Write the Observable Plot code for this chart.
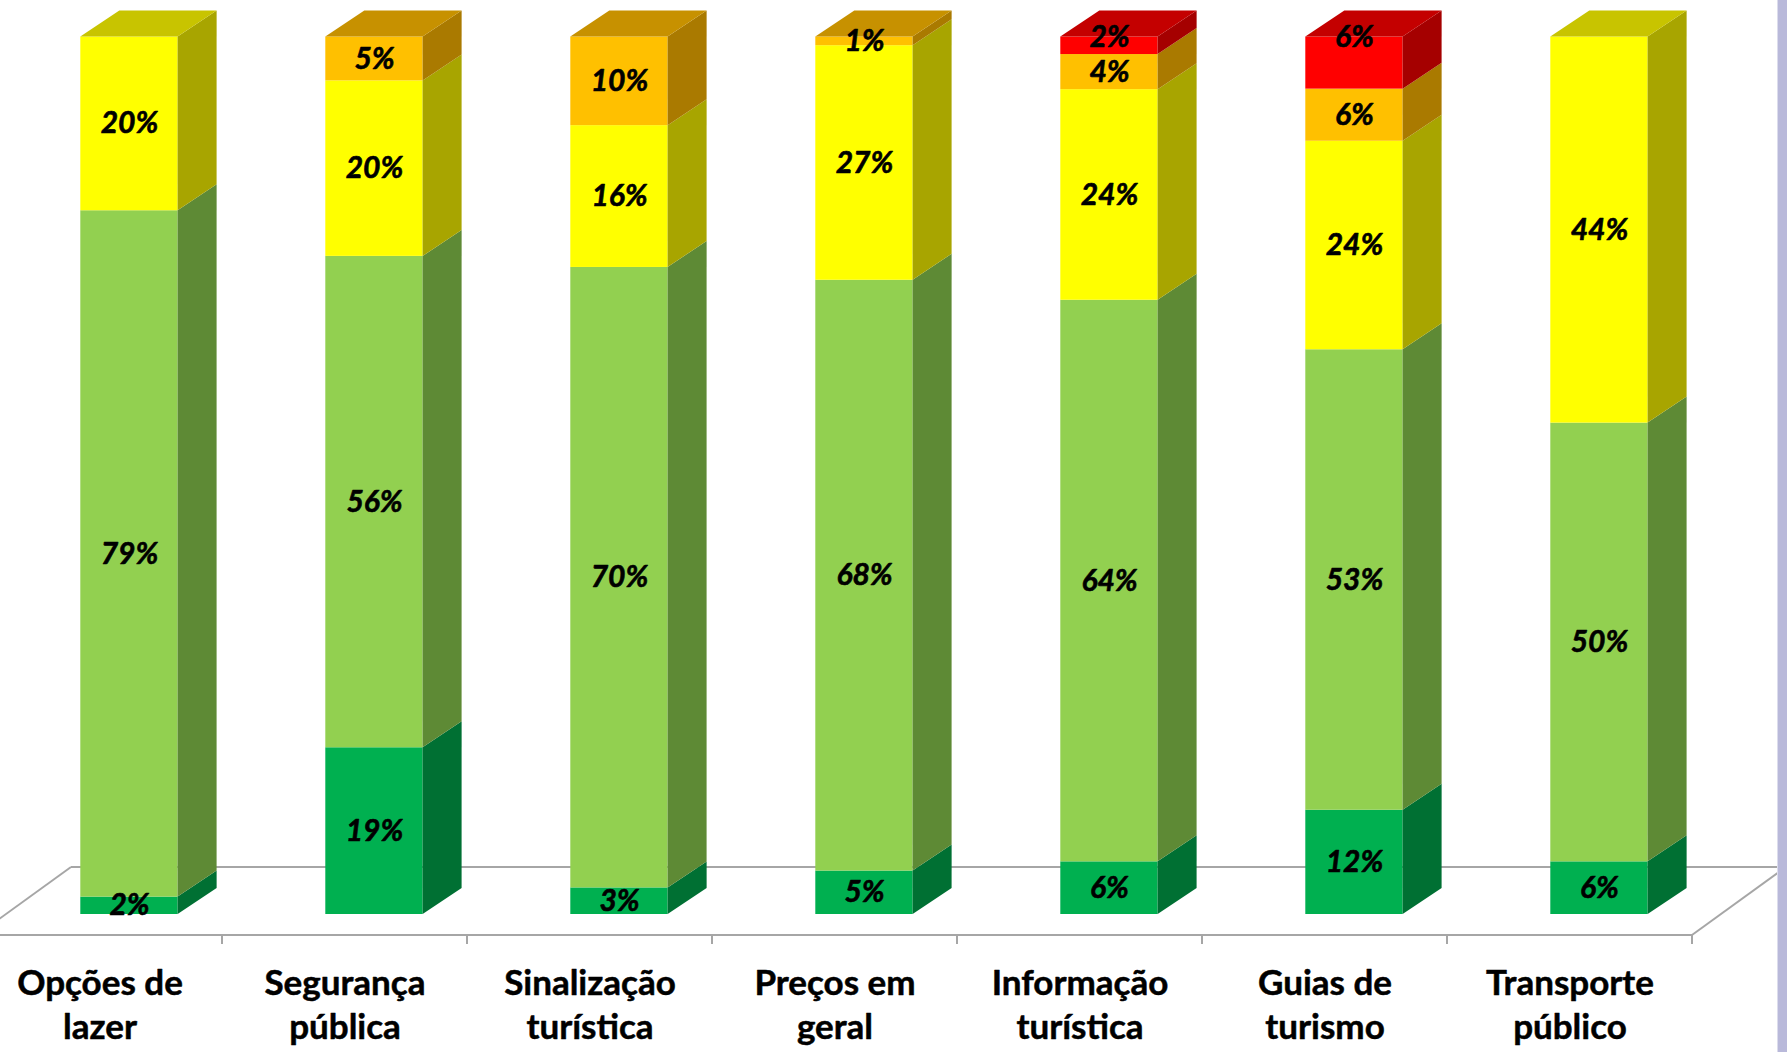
<!DOCTYPE html>
<html><head><meta charset="utf-8">
<script src="https://cdn.jsdelivr.net/npm/d3@7"></script>
<script src="https://cdn.jsdelivr.net/npm/@observablehq/plot@0.6"></script>
<style>
body{margin:0;background:#fff;overflow:hidden}
#chart{position:relative;width:1787px;height:1052px;overflow:hidden}
#edge{position:absolute;left:1777px;top:0;width:10px;height:1052px;background:#b9b9da;border-left:1px solid #dcdcec}
</style></head><body>
<div id="chart"><div id="edge"></div></div>
<script>
const categories = ["Opções de lazer","Segurança pública","Sinalização turística","Preços em geral","Informação turística","Guias de turismo","Transporte público"];
const categoryLabels = ["Opções de\nlazer","Segurança\npública","Sinalização\nturística","Preços em\ngeral","Informação\nturística","Guias de\nturismo","Transporte\npúblico"];
const series = ["Ótimo","Bom","Regular","Ruim","Péssimo"];
const otimo   = [2, 19, 3, 5, 6, 12, 6];
const bom     = [79, 56, 70, 68, 64, 53, 50];
const regular = [20, 20, 16, 27, 24, 24, 44];
const ruim    = [0, 5, 10, 1, 4, 6, 0];
const pessimo = [0, 0, 0, 0, 2, 6, 0];
const frontColors = ["#00B050","#92D050","#FFFF00","#FFC000","#FF0000"];
const sideColors  = ["#007033","#5E8A35","#A8A500","#AA7A00","#A50000"];
const topColors   = ["#00903F","#78AC42","#C8C400","#C79100","#C40000"];

const seriesValues = [otimo, bom, regular, ruim, pessimo];
const rows = [];
categories.forEach((cat, i) => {
  const total = d3.sum(seriesValues, s => s[i]);
  let acc = 0;
  const catRows = [];
  seriesValues.forEach((s, k) => {
    const v = s[i];
    if (v > 0) {
      catRows.push({cat, series: series[k], k, value: v, y1: acc / total, y2: (acc + v) / total, top: false});
    }
    acc += v;
  });
  catRows[catRows.length - 1].top = true;
  rows.push(...catRows);
});

const DX = 39, DY = 26;          // bar depth
const FDX = 94, FDY = 68;        // floor depth
const IN_L = 103.3, IN_R = 44.4;

function floorMark(index, scales) {
  const x = scales.x, y = scales.y;
  const step = x(categories[1]) - x(categories[0]);
  const x0 = x(categories[0]);
  const x1 = x(categories[categories.length - 1]) + step;
  const yf = y(0) + 21, yb = yf - FDY;
  const g = d3.create("svg:g").attr("fill", "none").attr("stroke", "#a6a6a6").attr("stroke-width", 2);
  g.append("path").attr("d", `M${x0 + FDX},${yb}H${x1 + FDX}`);
  g.append("path").attr("d", `M${x0},${yf}L${x0 + FDX},${yb}`);
  g.append("path").attr("d", `M${x1},${yf}L${x1 + FDX},${yb}`);
  g.append("path").attr("d", `M${x0},${yf}H${x1}`);
  categories.forEach((c, i) => {
    const xt = x(c) + step;
    g.append("path").attr("d", `M${xt},${yf}V${yf + 9}`);
  });
  return g.node();
}

function depthMark(index, scales) {
  const x = scales.x, y = scales.y;
  const step = x(categories[1]) - x(categories[0]);
  const g = d3.create("svg:g").attr("stroke", "none");
  rows.forEach(r => {
    const xl = x(r.cat) + IN_L, xr = x(r.cat) + step - IN_R;
    const yt = y(r.y2), yb = y(r.y1);
    g.append("path").attr("fill", sideColors[r.k])
      .attr("d", `M${xr},${yt}L${xr + DX},${yt - DY}L${xr + DX},${yb - DY}L${xr},${yb}Z`);
    if (r.top) {
      g.append("path").attr("fill", topColors[r.k])
        .attr("d", `M${xl},${yt}L${xl + DX},${yt - DY}L${xr + DX},${yt - DY}L${xr},${yt}Z`);
    }
  });
  return g.node();
}

const plot = Plot.plot({
  width: 1787, height: 1052,
  marginTop: 0, marginBottom: 0, marginLeft: 0, marginRight: 0,
  x: {domain: categories, range: [-26, 1694], padding: 0, axis: null},
  y: {domain: [0, 1], range: [914, 36.5], axis: null},
  color: {domain: series, range: frontColors},
  style: {fontFamily: "Lato, 'Open Sans', sans-serif", background: "white", color: "black"},
  marks: [
    floorMark,
    Plot.barY(rows, {x: "cat", y1: "y1", y2: "y2", fill: "series", insetLeft: IN_L, insetRight: IN_R}),
    depthMark,
    Plot.text(rows, {x: "cat", y: d => d.k === 4 ? d.y2 : (d.y1 + d.y2) / 2, text: d => d.value + "%",
      dx: 29.5, fontSize: 30, fontWeight: "bold", fontStyle: "italic", fill: "black", stroke: "black", strokeWidth: 0.6}),
    Plot.text(categories, {x: d => d, y: d => 0, text: (d, i) => categoryLabels[i],
      dy: 50, lineAnchor: "top", lineHeight: 1.24, fontSize: 35, fontWeight: "bold", fill: "black", stroke: "black", strokeWidth: 0.5})
  ]
});
document.getElementById("chart").prepend(plot);
</script>
</body></html>
